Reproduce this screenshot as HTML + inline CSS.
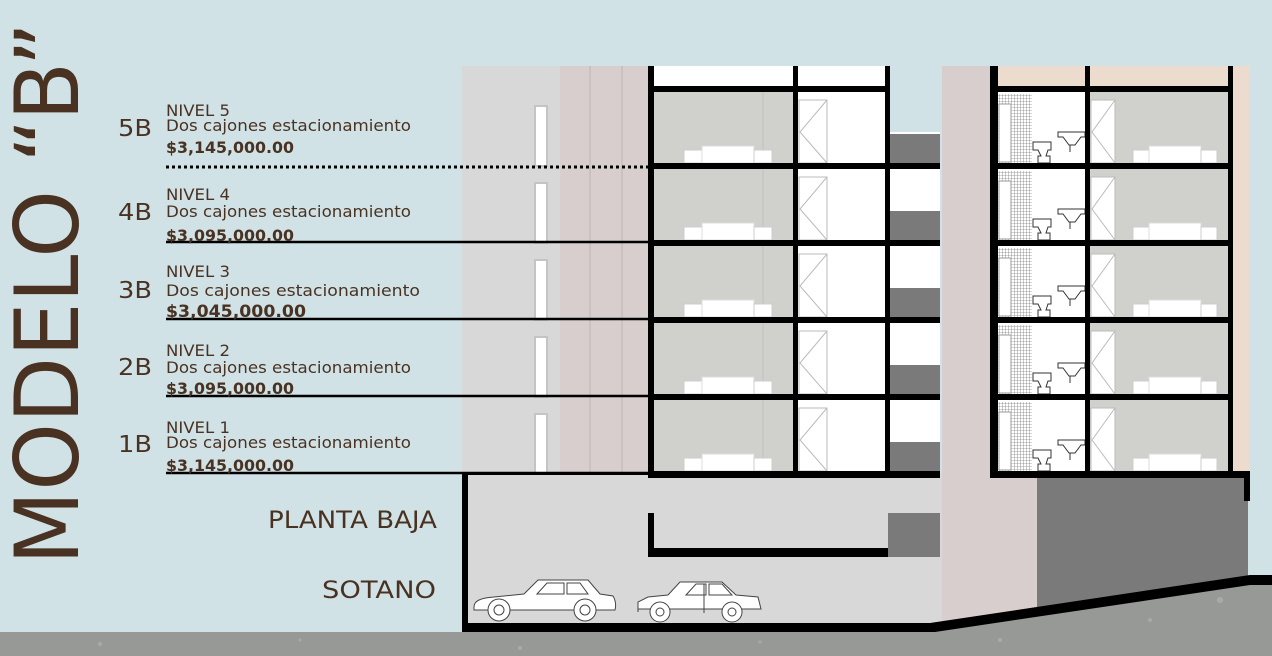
<!DOCTYPE html>
<html><head><meta charset="utf-8"><style>
html,body{margin:0;padding:0;background:#d0e2e6;}
svg{display:block;font-family:"DejaVu Sans","Liberation Sans",sans-serif;}
</style></head><body>
<svg width="1272" height="656" viewBox="0 0 1272 656" xmlns="http://www.w3.org/2000/svg">
<defs>
<pattern id="tile" width="3" height="3" patternUnits="userSpaceOnUse"><rect width="3" height="3" fill="#fff"/><path d="M0 0H3M0 0V3" stroke="#555" stroke-width="0.6"/></pattern>
<g id="lf">
  <rect x="653" y="0" width="140" height="71" fill="#d0d1cc"/>
  <line x1="763" y1="0" x2="763" y2="71" stroke="#c0c0bb"/>
  <rect x="798" y="0" width="87" height="71" fill="#fff"/>
  <rect x="799" y="8" width="28" height="63" fill="none" stroke="#bbb"/>
  <path d="M827 8L800 40L827 71" fill="none" stroke="#bbb"/>
  <rect x="684" y="58" width="18" height="13" fill="#fff" stroke="#ccc"/>
  <rect x="702" y="54" width="52" height="17" fill="#fff" stroke="#ddd"/>
  <rect x="754" y="58" width="18" height="13" fill="#fff" stroke="#ccc"/>
  <rect x="535" y="14" width="12" height="60" fill="#fff" stroke="#c4c4c4" stroke-width="2"/>
  <rect x="890" y="0" width="50" height="42" fill="#fff"/>
  <rect x="890" y="42" width="50" height="29" fill="#7a7a7a"/>
</g>
<g id="rf">
  <rect x="998" y="0" width="87" height="71" fill="#fff"/>
  <rect x="998" y="2" width="34" height="69" fill="url(#tile)"/>
  <rect x="999" y="12" width="12" height="58" fill="#fff" stroke="#999"/>
  <path d="M1033 50h18v8h-3l-2 6h4v7h-12v-7h3l-3-6h-5z" fill="#fff" stroke="#333" stroke-width="1"/>
  <path d="M1058 40h27v5h-4l-6 8h-6l-6-8h-5z" fill="#fff" stroke="#333" stroke-width="1"/>
  <line x1="1070" y1="53" x2="1070" y2="60" stroke="#333"/>
  <rect x="1090" y="0" width="138" height="71" fill="#d0d1cc"/>
  <rect x="1091" y="8" width="24" height="63" fill="#fff" stroke="#bbb"/>
  <path d="M1115 8L1092 40L1115 71" fill="none" stroke="#bbb"/>
  <rect x="1133" y="58" width="16" height="13" fill="#fff" stroke="#ccc"/>
  <rect x="1149" y="54" width="52" height="17" fill="#fff" stroke="#ddd"/>
  <rect x="1201" y="58" width="16" height="13" fill="#fff" stroke="#ccc"/>
</g>
</defs>
<rect width="1272" height="656" fill="#d0e2e6"/>
<rect x="462" y="66" width="98" height="408" fill="#d8d8d8"/>
<rect x="560" y="66" width="88" height="408" fill="#d8cece"/>
<line x1="590" y1="66" x2="590" y2="474" stroke="#bfb3b3"/>
<line x1="622" y1="66" x2="622" y2="474" stroke="#bfb3b3"/>
<rect x="653" y="66" width="232" height="20" fill="#fff"/>
<use href="#lf" y="92"/><use href="#lf" y="169"/><use href="#lf" y="246"/><use href="#lf" y="323"/><use href="#lf" y="400"/>
<rect x="890" y="66" width="50" height="66" fill="#d0e2e6"/>
<rect x="942" y="66" width="95" height="566" fill="#d8cece"/>
<rect x="998" y="66" width="230" height="20" fill="#ecdccd"/>
<rect x="1233" y="66" width="17" height="408" fill="#ecdccd"/>
<use href="#rf" y="92"/><use href="#rf" y="169"/><use href="#rf" y="246"/><use href="#rf" y="323"/><use href="#rf" y="400"/>
<rect x="462" y="474" width="480" height="158" fill="#d8d8d8"/>
<rect x="1037" y="478" width="211" height="140" fill="#7a7a7a"/>
<rect x="888" y="513" width="52" height="44" fill="#7a7a7a"/>
<path d="M648 513h6v35h234v9H648z" fill="#000"/>
<g fill="#000">
<rect x="648" y="66" width="6" height="412"/>
<rect x="793" y="66" width="5" height="412"/>
<rect x="885" y="66" width="5" height="412"/>
<rect x="648" y="86" width="242" height="6"/>
<rect x="648" y="163" width="292" height="6"/>
<rect x="648" y="240" width="292" height="6"/>
<rect x="648" y="317" width="292" height="6"/>
<rect x="648" y="394" width="292" height="6"/>
<rect x="648" y="471" width="292" height="7"/>
<rect x="990" y="66" width="8" height="412"/>
<rect x="1085" y="66" width="5" height="412"/>
<rect x="1228" y="66" width="5" height="412"/>
<rect x="990" y="86" width="243" height="6"/>
<rect x="990" y="163" width="243" height="6"/>
<rect x="990" y="240" width="243" height="6"/>
<rect x="990" y="317" width="243" height="6"/>
<rect x="990" y="394" width="243" height="6"/>
<rect x="990" y="471" width="260" height="7"/>
<rect x="1244" y="471" width="6" height="30"/>
<rect x="462" y="474" width="6" height="158"/>
<rect x="462" y="472" width="186" height="3"/>
</g>
<path d="M0 632H930L1250 576H1272V656H0Z" fill="#979997"/>
<path d="M462 623H930L1250 575H1272V585H1250L935 632H462Z" fill="#000"/>
<g fill="#b0b2b0" opacity="0.7"><circle cx="100" cy="644" r="2"/><circle cx="300" cy="640" r="1.5"/><circle cx="520" cy="648" r="2"/><circle cx="760" cy="642" r="1.5"/><circle cx="1000" cy="640" r="2"/><circle cx="1150" cy="620" r="2"/><circle cx="1220" cy="600" r="3"/></g>
<g fill="#fff" stroke="#444" stroke-width="1">
<path d="M474 607c0-6 6-9 20-10l30-3 14-14h50l12 14 13 2c3 5 3 10 2 14H474z"/>
<circle cx="499" cy="610" r="11"/><circle cx="499" cy="610" r="5"/>
<circle cx="585" cy="610" r="11"/><circle cx="585" cy="610" r="5"/>
<path d="M537 594l10-11h17v11zM567 583h13l8 11h-21z" fill="none"/>
<path d="M638 612v-10l10-5 20-2 12-13h42l14 13 22 2 3 12H638z"/>
<circle cx="660" cy="612" r="10"/><circle cx="660" cy="612" r="4"/>
<circle cx="732" cy="612" r="10"/><circle cx="732" cy="612" r="4"/>
<path d="M686 595l10-11h10v11zM709 584h13l10 11h-23zM704 584v29" fill="none"/>
</g>
<line x1="166" y1="167" x2="650" y2="167" stroke="#000" stroke-width="3" stroke-dasharray="3,3"/>
<g stroke="#000" stroke-width="2.5">
<line x1="166" y1="242" x2="650" y2="242"/>
<line x1="166" y1="319" x2="650" y2="319"/>
<line x1="166" y1="396" x2="650" y2="396"/>
<line x1="166" y1="473" x2="650" y2="473"/>
</g>
<g fill="#4a3222">
<text transform="translate(78,565) rotate(-90)" font-size="88" textLength="543" lengthAdjust="spacingAndGlyphs">MODELO “B”</text>
<g font-size="23">
<text x="118" y="136" textLength="34" lengthAdjust="spacingAndGlyphs">5B</text><text x="118" y="220" textLength="34" lengthAdjust="spacingAndGlyphs">4B</text><text x="118" y="298" textLength="34" lengthAdjust="spacingAndGlyphs">3B</text><text x="118" y="375" textLength="34" lengthAdjust="spacingAndGlyphs">2B</text><text x="118" y="452" textLength="34" lengthAdjust="spacingAndGlyphs">1B</text>
</g>
<g font-size="16">
<text x="166" y="116" textLength="64" lengthAdjust="spacingAndGlyphs">NIVEL 5</text><text x="166" y="131" textLength="245" lengthAdjust="spacingAndGlyphs">Dos cajones estacionamiento</text>
<text x="166" y="200" textLength="64" lengthAdjust="spacingAndGlyphs">NIVEL 4</text><text x="166" y="217" textLength="245" lengthAdjust="spacingAndGlyphs">Dos cajones estacionamiento</text>
<text x="166" y="277" textLength="64" lengthAdjust="spacingAndGlyphs">NIVEL 3</text><text x="166" y="296" textLength="254" lengthAdjust="spacingAndGlyphs">Dos cajones estacionamiento</text>
<text x="166" y="356" textLength="64" lengthAdjust="spacingAndGlyphs">NIVEL 2</text><text x="166" y="373" textLength="245" lengthAdjust="spacingAndGlyphs">Dos cajones estacionamiento</text>
<text x="166" y="433" textLength="64" lengthAdjust="spacingAndGlyphs">NIVEL 1</text><text x="166" y="448" textLength="245" lengthAdjust="spacingAndGlyphs">Dos cajones estacionamiento</text>
</g>
<g font-size="16" font-weight="bold">
<text x="166" y="153" textLength="128" lengthAdjust="spacingAndGlyphs">$3,145,000.00</text>
<text x="166" y="241" textLength="128" lengthAdjust="spacingAndGlyphs">$3,095,000.00</text>
<text x="166" y="317" font-size="17" textLength="140" lengthAdjust="spacingAndGlyphs">$3,045,000.00</text>
<text x="166" y="394" textLength="128" lengthAdjust="spacingAndGlyphs">$3,095,000.00</text>
<text x="166" y="471" textLength="128" lengthAdjust="spacingAndGlyphs">$3,145,000.00</text>
</g>
<text x="268" y="528" font-size="24" textLength="169" lengthAdjust="spacingAndGlyphs">PLANTA BAJA</text>
<text x="322" y="598" font-size="24" textLength="114" lengthAdjust="spacingAndGlyphs">SOTANO</text>
</g>
</svg>
</body></html>
